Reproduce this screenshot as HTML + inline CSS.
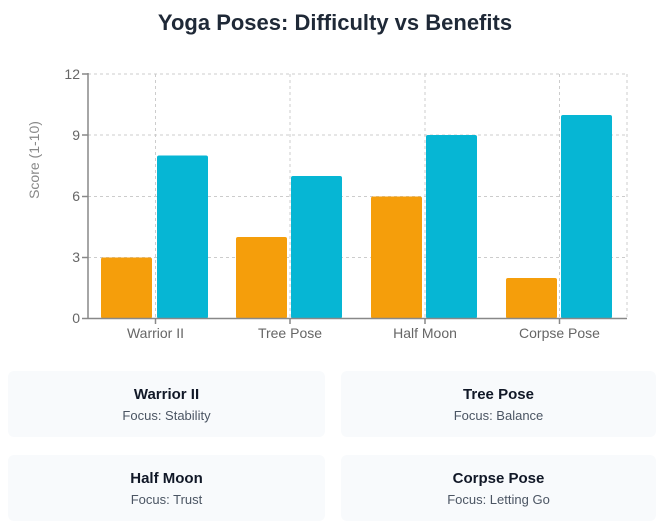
<!DOCTYPE html>
<html><head><meta charset="utf-8"><style>
body{margin:0;background:#fff;width:671px;height:529px;overflow:hidden;font-family:"Liberation Sans","DejaVu Sans",sans-serif;}
.card{position:absolute;background:#f8fafc;border-radius:6px;text-align:center;}
.card b{display:block;font-size:15px;color:#111827;margin-top:15px;}
.card span{display:block;font-size:13px;color:#4b5563;margin-top:5px;}
</style></head><body>
<svg width="671" height="360" style="position:absolute;left:0;top:0" font-family="Liberation Sans, DejaVu Sans, sans-serif">
<text x="335" y="30" text-anchor="middle" font-size="22" font-weight="bold" fill="#1f2937">Yoga Poses: Difficulty vs Benefits</text>
<g stroke="#ccc" stroke-dasharray="3,3" stroke-width="1">
<line x1="88" y1="74" x2="627" y2="74"/><line x1="88" y1="135" x2="627" y2="135"/><line x1="88" y1="196.5" x2="627" y2="196.5"/><line x1="88" y1="257.5" x2="627" y2="257.5"/>
<line x1="155.5" y1="74" x2="155.5" y2="318"/><line x1="290" y1="74" x2="290" y2="318"/><line x1="425" y1="74" x2="425" y2="318"/><line x1="559.5" y1="74" x2="559.5" y2="318"/><line x1="627" y1="74" x2="627" y2="318"/>
</g>
<g fill="#f59e0b">
<rect x="101" y="257.5" width="51" height="61" rx="2"/>
<rect x="236" y="237" width="51" height="81.5" rx="2"/>
<rect x="371" y="196.5" width="51" height="122" rx="2"/>
<rect x="506" y="278" width="51" height="40.5" rx="2"/>
</g>
<g fill="#06b6d4">
<rect x="157" y="155.5" width="51" height="163" rx="2"/>
<rect x="291" y="176" width="51" height="142.5" rx="2"/>
<rect x="426" y="135" width="51" height="183.5" rx="2"/>
<rect x="561" y="115" width="51" height="203.5" rx="2"/>
</g>
<g stroke="#888" stroke-width="1.5" fill="none">
<line x1="88" y1="73" x2="88" y2="319"/><line x1="88" y1="318.5" x2="627" y2="318.5"/>
<line x1="82" y1="74" x2="88" y2="74"/><line x1="82" y1="135" x2="88" y2="135"/><line x1="82" y1="196.5" x2="88" y2="196.5"/><line x1="82" y1="257.5" x2="88" y2="257.5"/><line x1="82" y1="318.5" x2="88" y2="318.5"/>
<line x1="155.5" y1="318" x2="155.5" y2="324"/><line x1="290" y1="318" x2="290" y2="324"/><line x1="425" y1="318" x2="425" y2="324"/><line x1="559.5" y1="318" x2="559.5" y2="324"/>
</g>
<g font-size="14" fill="#666" text-anchor="end">
<text x="80" y="79">12</text><text x="80" y="140">9</text><text x="80" y="201">6</text><text x="80" y="262">3</text><text x="80" y="323">0</text>
</g>
<g font-size="14" fill="#666" text-anchor="middle">
<text x="155.5" y="338">Warrior II</text><text x="290" y="338">Tree Pose</text><text x="425" y="338">Half Moon</text><text x="559.5" y="338">Corpse Pose</text>
</g>
<text transform="translate(39,160) rotate(-90)" text-anchor="middle" font-size="14" fill="#888">Score (1-10)</text>
</svg>
<div class="card" style="left:8px;top:371px;width:317px;height:66px"><b>Warrior II</b><span>Focus: Stability</span></div>
<div class="card" style="left:341px;top:371px;width:315px;height:66px"><b>Tree Pose</b><span>Focus: Balance</span></div>
<div class="card" style="left:8px;top:455px;width:317px;height:66px"><b>Half Moon</b><span>Focus: Trust</span></div>
<div class="card" style="left:341px;top:455px;width:315px;height:66px"><b>Corpse Pose</b><span>Focus: Letting Go</span></div>
</body></html>
